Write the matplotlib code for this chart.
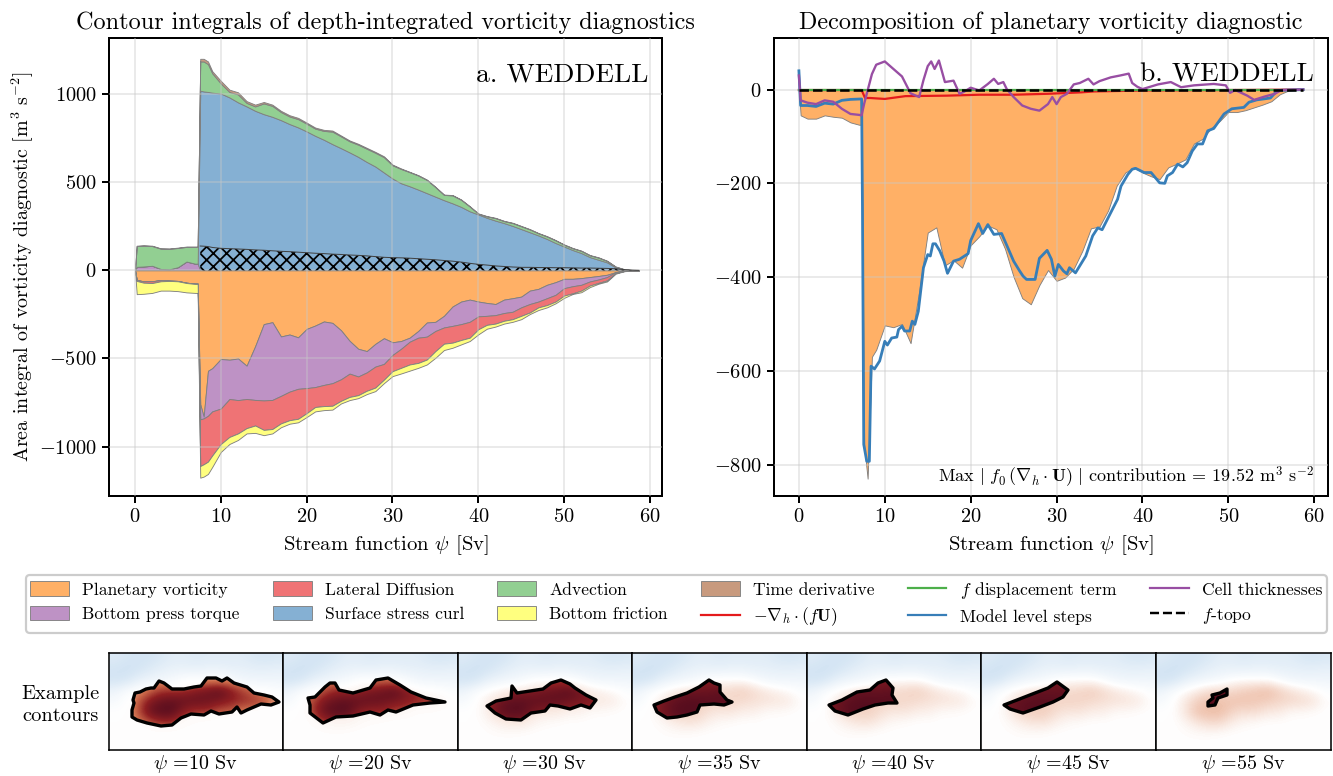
import numpy as np
import matplotlib
matplotlib.use("Agg")
import matplotlib.pyplot as plt
from matplotlib.colors import LinearSegmentedColormap
from matplotlib.lines import Line2D
from matplotlib.patches import Patch, Polygon

plt.rcParams['font.family'] = ['cmr10', 'DejaVu Serif']
plt.rcParams['mathtext.fontset'] = 'cm'
plt.rcParams['axes.formatter.use_mathtext'] = True
plt.rcParams['axes.unicode_minus'] = True
plt.rcParams['hatch.linewidth'] = 0.8

W, H, DPI = 1333, 776, 160

# stream function grid for the stacked areas [Sv]
psi = [0, 0.2, 1, 2, 3, 4, 5, 6, 7, 7.3, 7.6, 8, 8.5, 9] + list(range(10, 59)) + [58.7]

# upper edges of the positive stack
btp_top = [0, 20, 22, 26, 8, 6, 18, 50, 38, 38, 0, 0, 0, 0] + [0] * 50
surf_top = [0, 20, 22, 26, 8, 6, 18, 50, 38, 38, 1019, 1015, 1012, 1008,
            1003, 981, 953, 930, 905, 886, 871, 852, 830, 811,
            788, 763, 741, 716, 693, 669, 644, 615, 589, 555,
            521, 494, 477, 458, 438, 418, 398, 380, 360, 335,
            317, 298, 282, 268, 252, 234, 216, 198, 178, 155,
            135, 115, 98, 75, 60, 45, 17, 5, 0.5, 0]
adv_top = [0, 138, 140, 138, 123, 122, 127, 133, 133, 133, 1185, 1185, 1170, 1118,
           1060, 1012, 998, 950, 930, 947, 933, 898, 873, 858,
           832, 804, 791, 787, 760, 732, 713, 690, 667, 642,
           596, 575, 557, 538, 513, 472, 428, 425, 400, 362,
           321, 306, 296, 279, 268, 250, 232, 210, 192, 170,
           145, 125, 110, 85, 72, 53, 20, 6, 1, 0]
time_top = [0, 140, 142, 140, 125, 124, 129, 135, 135, 135, 1200, 1200, 1185, 1130,
            1075, 1025, 1010, 960, 940, 955, 940, 905, 880, 865,
            838, 810, 797, 793, 765, 737, 718, 695, 672, 647,
            600, 578, 559, 540, 515, 474, 430, 427, 402, 364,
            323, 308, 298, 281, 270, 252, 234, 212, 194, 172,
            147, 127, 112, 87, 74, 55, 22, 7, 1.5, 0]
hatch_top = [np.nan] * 10 + [138, 137, 135, 130,
             125, 123, 121, 119, 116, 114, 111, 108, 106, 103,
             100, 97, 95, 92, 90, 87, 85, 82, 78, 74,
             72, 71, 69, 66, 63, 60, 56, 52, 47, 40,
             34, 30, 25, 22, 19, 17, 17, 16, 16, 15,
             15, 14, 13, 13, 12, 11, 9, 4, 1, 0]

# lower edges of the negative stack
plan_bot = [0, -55, -62, -62, -55, -58, -60, -70, -75, -75, -760, -830, -570, -555,
            -503, -507, -500, -541, -430, -305, -294, -375, -364, -380,
            -332, -313, -290, -298, -340, -400, -445, -458, -417, -385,
            -408, -401, -382, -344, -296, -292, -258, -205, -177, -166,
            -177, -185, -191, -166, -158, -149, -115, -105, -82, -67,
            -48, -48, -44, -38, -32, -25, -10, -2, -0.5, 0]
btp_bot = [0, -55, -62, -62, -55, -58, -60, -70, -75, -75, -845, -840, -825, -800,
           -784, -730, -736, -730, -735, -738, -735, -712, -688, -672,
           -668, -662, -650, -640, -618, -586, -602, -579, -546, -531,
           -480, -445, -405, -382, -376, -344, -324, -315, -305, -292,
           -261, -258, -254, -242, -235, -210, -191, -177, -158, -139,
           -101, -90, -82, -63, -52, -38, -10, -3, -0.5, 0]
diff_bot = [0, -60, -70, -72, -62, -60, -62, -72, -77, -77, -1110, -1100, -1085, -1050,
            -985, -945, -925, -895, -880, -905, -900, -868, -850, -842,
            -810, -775, -770, -768, -740, -718, -708, -683, -665, -620,
            -572, -553, -534, -525, -506, -458, -416, -410, -395, -382,
            -334, -309, -302, -286, -277, -258, -239, -210, -197, -177,
            -143, -130, -115, -86, -71, -57, -15, -4, -1, 0]
fric_bot = [0, -135, -133, -128, -115, -115, -118, -125, -128, -128, -1176, -1170, -1155, -1115,
            -1030, -985, -962, -925, -922, -935, -925, -890, -870, -862,
            -832, -800, -793, -790, -755, -736, -725, -702, -685, -640,
            -600, -585, -569, -553, -534, -496, -452, -439, -420, -401,
            -363, -331, -319, -302, -292, -277, -248, -225, -210, -187,
            -156, -134, -124, -95, -76, -63, -19, -5, -1, 0]

# lines of panel b
psi_cell = [0, 0.2, 1, 2, 3, 4, 5, 6, 7, 7.3, 7.6, 8, 8.5, 9, 10, 11, 12, 13, 14, 14.5, 15,
            15.4, 15.8, 16.3, 17, 18, 18.7, 19.2, 20, 21, 22, 22.7, 23.2, 23.8, 24.2, 25, 26, 27, 28,
            29, 29.5, 30, 30.5, 31.2, 32, 32.7, 33.7, 34.3, 35, 36.3, 37.4, 38.4, 38.8, 39.4,
            40, 41.8, 43.3, 44.5, 46, 48.3, 49.7, 50.2, 50.8, 52.2, 53, 54.2, 55.4, 56.2, 58.7]
cell_thick = [30, -23, -28, -31, -23, -26, -41, -52, -54, -55, -30, -2, 33, 53, 60, 44, 28, -8, -16, 20, 50,
              60, 44, 62, 16, 19, -9, -5, 4, -2, 12, 23, 12, 16, 1, -16, -34, -41, -45,
              -31, -16, -31, -16, -9, 11, 14, 23, 11, 18, 26, 30, 34, 14, 6,
              1, 11, 16, 5, 9, 12, 9, -7, -1, -13, -22, -15, -9, -1, 0]
psi_steps = [0, 0.2, 1, 2, 3, 4, 5, 6, 7.3, 7.4, 7.55, 7.9, 8.2, 8.4, 8.8, 9.4, 10, 10.3, 10.8, 11.4, 11.6,
             12, 12.3, 12.9, 13.2, 13.5, 13.9, 14.5, 15, 15.3, 15.6, 15.9, 16.4, 16.9, 17.3, 18, 18.7,
             19.7, 20, 20.9, 21.4, 22, 22.7, 23.6, 25, 25.7, 26.1, 26.5, 27.5, 28, 28.9, 29.4, 29.8,
             30.2, 30.8, 31.2, 31.5, 32.2, 33.4, 34.2, 34.8, 35.3, 36.1, 37.1, 37.5, 38.3, 38.8, 39.2,
             40.2, 41, 42, 42.6, 42.9, 43.5, 44.1, 44.7, 45.2, 45.8, 46.4, 47, 47.6, 48.3, 49.5, 50.4,
             51.8, 52.4, 53.3, 54.9, 55.7, 58.7]
level_steps = [40, -34, -34, -36, -29, -31, -23, -21, -20, -251, -757, -793, -793, -590, -596, -579, -537, -545, -530, -528, -512,
               -505, -515, -515, -494, -501, -473, -380, -352, -355, -329, -329, -344, -366, -392, -366, -362,
               -350, -322, -286, -307, -288, -309, -307, -366, -387, -398, -405, -405, -360, -343, -362, -398,
               -373, -387, -393, -380, -391, -355, -312, -295, -299, -270, -234, -206, -181, -170, -168,
               -177, -177, -199, -200, -184, -177, -159, -165, -156, -131, -116, -116, -88, -83, -52, -41,
               -38, -27, -22, -18, -2, 0]
psi_div = [0, 7.3, 7.7, 8.3, 10, 12.4, 17.2, 21, 25, 29, 32.8, 34.4, 40, 50, 58.7]
div_fU = [-1, -1, -18, -18, -20, -14, -13, -11, -11, -9, -6, -4, -2, -1, 0]
psi_flat = [0, 58.7]
f_disp = [0, 0]
f_topo = [0, 0]

# contour panels
map_psi = [10, 20, 30, 35, 40, 45, 55]
contour_10 = [(23, 57), (25, 50), (24, 47), (26, 40), (31, 39), (37, 36), (42, 35), (45, 35), (50, 28), (55, 30),
              (63, 36), (75, 36), (85, 34), (92, 33), (98, 25), (107, 25), (113, 28), (118, 25), (125, 30),
              (138, 34), (145, 40), (155, 42), (163, 44), (170, 49), (162, 52), (152, 51), (138, 57), (132, 60),
              (128, 54), (123, 59), (110, 61), (102, 58), (95, 62), (82, 61), (72, 65), (63, 72), (52, 73),
              (38, 70), (28, 67), (23, 64)]
contour_20 = [(25, 45), (32, 44), (42, 34), (47, 30), (52, 30), (56, 37), (70, 40), (87, 35), (93, 27), (105, 25),
              (117, 32), (128, 39), (143, 45), (162, 49), (147, 50), (130, 52), (113, 59), (105, 57), (97, 62),
              (87, 59), (70, 63), (53, 64), (40, 70), (27, 60), (27, 52)]
contour_30 = [(29, 53), (38, 48), (53, 45), (54, 33), (59, 40), (72, 38), (85, 36), (93, 30), (103, 27), (112, 31),
              (117, 35), (128, 42), (138, 47), (132, 55), (123, 52), (112, 56), (100, 53), (92, 52), (87, 58),
              (73, 60), (63, 67), (48, 66), (37, 60)]
contour_35 = [(22, 52), (32, 48), (43, 44), (55, 40), (67, 34), (77, 27), (82, 30), (88, 32), (88, 39), (95, 47),
              (100, 49), (92, 52), (82, 51), (68, 52), (65, 59), (55, 62), (45, 64), (35, 65), (25, 59)]
contour_40 = [(22, 52), (35, 47), (50, 39), (63, 37), (71, 30), (79, 27), (86, 35), (85, 42), (90, 50), (81, 50),
              (68, 52), (56, 56), (41, 62), (28, 58)]
contour_45 = [(23, 52), (36, 47), (54, 40), (67, 35), (76, 29), (87, 37), (82, 44), (72, 49), (59, 54), (42, 60),
              (29, 56)]
contour_55 = [(56, 42), (64, 40), (71, 36), (71, 42), (62, 45), (59, 52), (52, 53), (52, 49), (57, 45)]
contours = [contour_10, contour_20, contour_30, contour_35, contour_40, contour_45, contour_55]
outer_gain = [0.05, 0.07, 0.15, 0.17, 0.17, 0.18, 0.24]
inner_base = [0.28, 0.38, 0.55, 0.72, 0.78, 0.8, 0.85]
inner_gain = [0.7, 0.6, 0.42, 0.26, 0.2, 0.16, 0.1]

# coarse reading of the map shading, same in every panel
basin_map = np.array([
    [-.20, -.24, -.26, -.26, -.22, -.17, -.17, -.20, -.18, -.18, -.18, -.18, -.22, -.24, -.22],
    [-.26, -.28, -.26, -.20, -.15, -.13, -.13, -.13, -.12, -.12, -.14, -.14, -.15, -.15, -.14],
    [-.26, -.24, -.14, -.10, -.08, -.05, .00, .05, .05, .05, -.03, -.08, -.09, -.09, -.09],
    [-.10, -.03, .05, .25, .50, .50, .55, .70, .80, .95, .70, .45, .25, .08, -.02],
    [-.05, .00, .30, .70, .85, .90, .85, .85, .80, .70, .60, .55, .50, .40, .04],
    [.00, .00, .35, .85, .95, .95, .60, .45, .50, .30, .30, .08, .08, .03, .00],
    [.00, .00, .12, .32, .50, .50, .25, .10, .05, .00, .00, .00, .00, .00, .00],
    [.00, .00, .03, .06, .06, .03, .00, .00, .00, .00, .00, .00, .00, .00, .00],
    [.00, .00, .00, .00, .00, .00, .00, .00, .00, .00, .00, .00, .00, .00, .00],
])

C_PLAN = '#ffb066'
C_BTP = '#be92c5'
C_DIFF = '#ef7375'
C_SURF = '#85b0d3'
C_ADV = '#92cf92'
C_FRIC = '#ffff7f'
C_TIME = '#c89a7e'
EDGE = '#808080'

map_cmap = LinearSegmentedColormap.from_list('basin', [
    (0.0, '#5b9bd5'), (0.5, '#ffffff'), (0.6, '#f0c6b2'),
    (0.725, '#cc6a4a'), (0.85, '#8f1f22'), (1.0, '#4d0a1e')])


def ax_px(left, top, right, bottom):
    return fig.add_axes([left / W, 1 - bottom / H, (right - left) / W, (bottom - top) / H])


def band(ax, lower, upper, color):
    ax.fill_between(psi, lower, upper, facecolor=color, edgecolor=EDGE, linewidth=0.4, zorder=2)


fig = plt.figure(figsize=(W / DPI, H / DPI), dpi=DPI)
TICK_FS = 9.2
LABEL_FS = 9.3

ax_a = ax_px(109, 38, 662, 496)
ax_b = ax_px(774, 38, 1328, 496)

zero = np.zeros(len(psi))
band(ax_a, zero, btp_top, C_BTP)
band(ax_a, btp_top, surf_top, C_SURF)
band(ax_a, surf_top, adv_top, C_ADV)
band(ax_a, adv_top, time_top, C_TIME)
band(ax_a, zero, plan_bot, C_PLAN)
band(ax_a, plan_bot, btp_bot, C_BTP)
band(ax_a, btp_bot, diff_bot, C_DIFF)
band(ax_a, diff_bot, fric_bot, C_FRIC)
ax_a.fill_between(psi, 0, hatch_top, facecolor='none', edgecolor='k', hatch='xxxx', linewidth=0, zorder=3)
ax_a.plot(psi, hatch_top, color='#404040', lw=0.45, zorder=3)
ax_a.set_xlim(-3.03, 61.4)
ax_a.set_ylim(-1280, 1318)
ax_a.set_yticks([-1000, -500, 0, 500, 1000])
ax_a.set_ylabel(r'Area integral of vorticity diagnostic [m$^3$ s$^{-2}$]', fontsize=9.0, labelpad=1.5)
ax_a.set_title('Contour integrals of depth-integrated vorticity diagnostics', fontsize=10.9, pad=4)
ax_a.text(0.975, 0.92, 'a. WEDDELL', transform=ax_a.transAxes, ha='right', va='center', fontsize=12.4)

ax_b.fill_between(psi, 0, plan_bot, facecolor=C_PLAN, edgecolor=EDGE, linewidth=0.4, zorder=2)
ax_b.plot(psi_div, div_fU, color='#e41a1c', lw=1.0, zorder=4)
ax_b.plot(psi_flat, f_disp, color='#4daf4a', lw=1.0, zorder=4)
ax_b.plot(psi_steps, level_steps, color='#377eb8', lw=1.25, zorder=4)
ax_b.plot(psi_cell, cell_thick, color='#984ea3', lw=1.05, zorder=5)
ax_b.plot(psi_flat, f_topo, color='k', lw=1.15, ls='--', zorder=6)
ax_b.set_xlim(-2.9, 61.6)
ax_b.set_ylim(-867, 110)
ax_b.set_yticks([-800, -600, -400, -200, 0])
ax_b.set_title('Decomposition of planetary vorticity diagnostic', fontsize=10.9, pad=4)
ax_b.text(0.975, 0.92, 'b. WEDDELL', transform=ax_b.transAxes, ha='right', va='center', fontsize=12.4)
ax_b.text(0.975, 0.04, r'Max $|\ f_0\,(\nabla_h \cdot \mathbf{U})\ |$ contribution = 19.52 m$^3$ s$^{-2}$',
          transform=ax_b.transAxes, ha='right', va='center', fontsize=8.15, zorder=7)

for ax in (ax_a, ax_b):
    ax.set_xticks(range(0, 61, 10))
    ax.set_xlabel(r'Stream function $\psi$ [Sv]', fontsize=LABEL_FS, labelpad=3)
    ax.tick_params(labelsize=TICK_FS, width=0.9, length=3, pad=2.5)
    ax.grid(True, color='#c8c8c8', alpha=0.45, lw=0.75, zorder=6)
    ax.set_axisbelow(False)
    for s in ax.spines.values():
        s.set_linewidth(0.9)

handles = [
    Patch(facecolor=C_PLAN, edgecolor=EDGE, lw=0.4, label='Planetary vorticity'),
    Patch(facecolor=C_BTP, edgecolor=EDGE, lw=0.4, label='Bottom press torque'),
    Patch(facecolor=C_DIFF, edgecolor=EDGE, lw=0.4, label='Lateral Diffusion'),
    Patch(facecolor=C_SURF, edgecolor=EDGE, lw=0.4, label='Surface stress curl'),
    Patch(facecolor=C_ADV, edgecolor=EDGE, lw=0.4, label='Advection'),
    Patch(facecolor=C_FRIC, edgecolor=EDGE, lw=0.4, label='Bottom friction'),
    Patch(facecolor=C_TIME, edgecolor=EDGE, lw=0.4, label='Time derivative'),
    Line2D([], [], color='#e41a1c', lw=1.0, label=r'$-\nabla_h \cdot (f\mathbf{U})$'),
    Line2D([], [], color='#4daf4a', lw=1.0, label=r'$f$ displacement term'),
    Line2D([], [], color='#377eb8', lw=1.0, label='Model level steps'),
    Line2D([], [], color='#984ea3', lw=1.0, label='Cell thicknesses'),
    Line2D([], [], color='k', lw=1.1, ls='--', label=r'$f$-topo'),
]
fig.legend(handles=handles, ncol=6, loc='center', mode='expand',
           bbox_to_anchor=(26 / W, 1 - 632 / H, 1301 / W, 56 / H),
           fontsize=7.9, frameon=True, fancybox=True, edgecolor='#cccccc', framealpha=1,
           handlelength=2.2, handleheight=0.9, handletextpad=0.75, columnspacing=1.0,
           labelspacing=0.45, borderaxespad=0, borderpad=0.25)

map_left = [109, 283, 458, 632, 807, 981, 1156]
map_right = [283, 458, 632, 807, 981, 1156, 1331]
MAP_H = 97
for i in range(len(map_psi)):
    ax = ax_px(map_left[i], 653, map_right[i], 750)
    extent = (0, map_right[i] - map_left[i], MAP_H, 0)
    outer = np.where(basin_map < 0, basin_map, basin_map * outer_gain[i])
    inner = inner_base[i] + inner_gain[i] * np.clip(basin_map, 0, 1)
    ax.imshow(outer, extent=extent, cmap=map_cmap, vmin=-1, vmax=1, aspect='auto', interpolation='bicubic')
    poly = Polygon(contours[i], closed=True, facecolor='none', edgecolor='none', transform=ax.transData)
    ax.add_patch(poly)
    im = ax.imshow(inner, extent=extent, cmap=map_cmap, vmin=-1, vmax=1, aspect='auto', interpolation='bicubic')
    im.set_clip_path(poly)
    ax.add_patch(Polygon(contours[i], closed=True, fill=False, edgecolor='k', lw=1.5, joinstyle='round'))
    ax.set_xticks([])
    ax.set_yticks([])
    ax.set_xlim(extent[0], extent[1])
    ax.set_ylim(MAP_H, 0)
    for s in ax.spines.values():
        s.set_linewidth(0.7)
    ax.set_xlabel(r'$\psi$ =%d Sv' % map_psi[i], fontsize=9.0, labelpad=1.5)

fig.text(100 / W, 1 - 705 / H, 'Example\ncontours', ha='right', va='center', fontsize=9.2,
         multialignment='center', linespacing=1.25)

fig.savefig('out.png', dpi=DPI)
